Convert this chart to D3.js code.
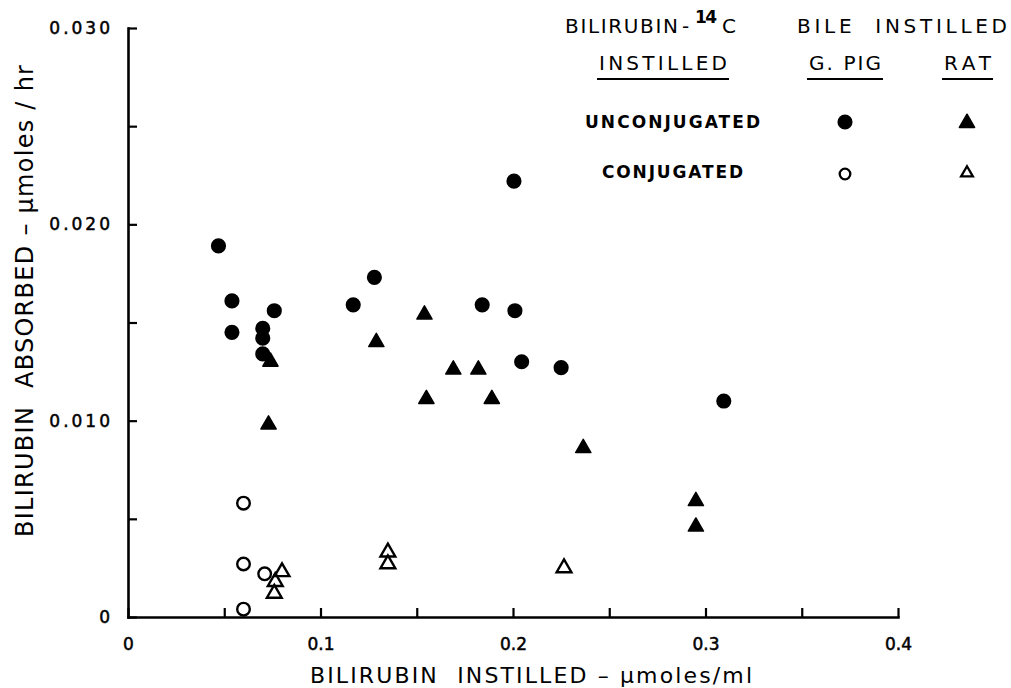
<!DOCTYPE html>
<html>
<head>
  <meta charset="utf-8">
  <title>Bilirubin absorbed vs bilirubin instilled</title>
  <style>
    body { margin: 0; background: #fff; }
    text { font-family: "DejaVu Sans", sans-serif; fill: #000; }
  </style>
</head>
<body>

  <script src="https://cdn.jsdelivr.net/npm/d3@7/dist/d3.min.js"></script>

  <script>
    // values: [instilled µmoles/ml, absorbed µmoles/hr]
    var gpigUnconjugated = [
      [0.047, 0.0189], [0.054, 0.0161], [0.054, 0.0145], [0.076, 0.0156],
      [0.070, 0.0147], [0.070, 0.0142], [0.070, 0.0134], [0.117, 0.0159],
      [0.128, 0.0173], [0.184, 0.0159], [0.201, 0.0156], [0.2005, 0.0222],
      [0.2045, 0.0130], [0.225, 0.0127], [0.3095, 0.0110]
    ];
    var ratUnconjugated = [
      [0.074, 0.0130], [0.073, 0.0098], [0.129, 0.0140], [0.154, 0.0154],
      [0.155, 0.0111], [0.169, 0.0126], [0.182, 0.0126], [0.189, 0.0111],
      [0.2365, 0.0086], [0.295, 0.0059], [0.295, 0.0046]
    ];
    var gpigConjugated = [
      [0.060, 0.0058], [0.060, 0.0027], [0.071, 0.0022], [0.060, 0.0004]
    ];
    var ratConjugated = [
      [0.080, 0.0023], [0.0765, 0.0018], [0.076, 0.0012],
      [0.135, 0.0033], [0.135, 0.0027], [0.2265, 0.0025]
    ];

    // ticks
    var xTickValues = [0, 0.05, 0.1, 0.15, 0.2, 0.25, 0.3, 0.35, 0.4];
    var xTickLabels = ["0", "", "0.1", "", "0.2", "", "0.3", "", "0.4"];
    var yTickValues = [0, 0.005, 0.010, 0.015, 0.020, 0.025, 0.030];
    var yTickLabels = ["0", "", "0.010", "", "0.020", "", "0.030"];

    var width = 1011;
    var height = 688;

    var x = d3.scaleLinear().domain([0, 0.4]).range([128, 898]);
    var y = d3.scaleLinear().domain([0, 0.030]).range([617, 28]);

    var svg = d3.select("body").append("svg")
      .attr("width", width)
      .attr("height", height);

    // X axis, ticks pointing inward
    var xAxis = svg.append("g")
      .attr("transform", "translate(0," + y(0) + ")")
      .call(d3.axisBottom(x)
        .tickValues(xTickValues)
        .tickFormat(function(d, i) { return xTickLabels[i]; })
        .tickSize(-9)
        .tickSizeOuter(0)
        .tickPadding(21));

    // Y axis
    var yAxis = svg.append("g")
      .attr("transform", "translate(" + x(0) + ",0)")
      .call(d3.axisLeft(y)
        .tickValues(yTickValues)
        .tickFormat(function(d, i) { return yTickLabels[i]; })
        .tickSize(-9)
        .tickSizeOuter(0)
        .tickPadding(15));

    [xAxis, yAxis].forEach(function(g) {
      g.attr("font-family", null).attr("font-size", null);
      g.select(".domain").attr("stroke-width", 2.6).attr("stroke-linecap", "square");
      g.selectAll(".tick line").attr("stroke-width", 2.2);
      g.selectAll(".tick text")
        .attr("font-size", 17)
        .attr("fill", "#000")
        .attr("stroke", "#000")
        .attr("stroke-width", 0.5);
    });
    yAxis.selectAll(".tick text").attr("letter-spacing", 3);

    // axis titles
    svg.append("text")
      .attr("x", 310)
      .attr("y", 683)
      .attr("font-size", 22)
      .attr("textLength", 442)
      .style("white-space", "pre")
      .text("BILIRUBIN  INSTILLED \u2013 \u03bcmoles/ml");

    svg.append("text")
      .attr("transform", "translate(33,537) rotate(-90)")
      .attr("font-size", 24)
      .attr("textLength", 472)
      .style("white-space", "pre")
      .text("BILIRUBIN  ABSORBED \u2013 \u03bcmoles / hr");

    // data marks
    var plot = svg.append("g");
    var circle = d3.symbol().type(d3.symbolCircle);
    var triangle = d3.symbol().type(d3.symbolTriangle);

    plot.selectAll(".gpig-unc")
      .data(gpigUnconjugated)
      .enter().append("path")
      .attr("class", "gpig-unc")
      .attr("d", circle.size(180)())
      .attr("transform", function(d) { return "translate(" + x(d[0]) + "," + y(d[1]) + ")"; })
      .attr("fill", "#000");

    plot.selectAll(".rat-unc")
      .data(ratUnconjugated)
      .enter().append("path")
      .attr("class", "rat-unc")
      .attr("d", triangle.size(100)())
      .attr("transform", function(d) { return "translate(" + x(d[0]) + "," + y(d[1]) + ")"; })
      .attr("fill", "#000")
      .attr("stroke", "#000")
      .attr("stroke-width", 1.5)
      .attr("stroke-linejoin", "round");

    plot.selectAll(".gpig-con")
      .data(gpigConjugated)
      .enter().append("circle")
      .attr("class", "gpig-con")
      .attr("cx", function(d) { return x(d[0]); })
      .attr("cy", function(d) { return y(d[1]); })
      .attr("r", 6.3)
      .attr("fill", "none")
      .attr("stroke", "#000")
      .attr("stroke-width", 2.4);

    plot.selectAll(".rat-con")
      .data(ratConjugated)
      .enter().append("path")
      .attr("class", "rat-con")
      .attr("d", triangle.size(95)())
      .attr("transform", function(d) { return "translate(" + x(d[0]) + "," + y(d[1]) + ")"; })
      .attr("fill", "none")
      .attr("stroke", "#000")
      .attr("stroke-width", 2.4);

    // legend
    var legend = svg.append("g");

    // "BILIRUBIN -14C" heading, pieces placed separately
    legend.append("text")
      .attr("x", 565).attr("y", 33)
      .attr("font-size", 20)
      .attr("textLength", 113)
      .text("BILIRUBIN");
    legend.append("text")
      .attr("x", 682).attr("y", 33)
      .attr("font-size", 20)
      .text("-");
    legend.append("text")
      .attr("x", 695).attr("y", 23)
      .attr("font-size", 17)
      .attr("font-weight", "bold")
      .attr("textLength", 22)
      .text("14");
    legend.append("text")
      .attr("x", 722).attr("y", 33)
      .attr("font-size", 20)
      .text("C");

    legend.append("text")
      .attr("x", 797)
      .attr("y", 33)
      .attr("font-size", 20)
      .attr("textLength", 210)
      .style("white-space", "pre")
      .text("BILE  INSTILLED");

    var subHeads = [
      { label: "INSTILLED", x0: 597, x1: 729 },
      { label: "G. PIG", x0: 807, x1: 883 },
      { label: "RAT", x0: 942, x1: 993 }
    ];
    subHeads.forEach(function(s) {
      legend.append("text")
        .attr("x", (s.x0 + s.x1) / 2)
        .attr("y", 70)
        .attr("text-anchor", "middle")
        .attr("font-size", 20)
        .attr("textLength", s.x1 - s.x0 - 4)
        .text(s.label);
      legend.append("line")
        .attr("x1", s.x0).attr("x2", s.x1)
        .attr("y1", 79).attr("y2", 79)
        .attr("stroke", "#000")
        .attr("stroke-width", 2);
    });

    legend.append("text")
      .attr("x", 585)
      .attr("y", 128)
      .attr("font-size", 17)
      .attr("font-weight", "bold")
      .attr("textLength", 175)
      .text("UNCONJUGATED");

    legend.append("text")
      .attr("x", 602)
      .attr("y", 178)
      .attr("font-size", 17)
      .attr("font-weight", "bold")
      .attr("textLength", 141)
      .text("CONJUGATED");

    legend.append("path")
      .attr("d", circle.size(180)())
      .attr("transform", "translate(845,122)")
      .attr("fill", "#000");

    legend.append("path")
      .attr("d", triangle.size(100)())
      .attr("transform", "translate(967,123)")
      .attr("fill", "#000")
      .attr("stroke", "#000")
      .attr("stroke-width", 1.5)
      .attr("stroke-linejoin", "round");

    legend.append("circle")
      .attr("cx", 845)
      .attr("cy", 174)
      .attr("r", 5.3)
      .attr("fill", "none")
      .attr("stroke", "#000")
      .attr("stroke-width", 2.3);

    legend.append("path")
      .attr("d", triangle.size(60)())
      .attr("transform", "translate(967,173)")
      .attr("fill", "none")
      .attr("stroke", "#000")
      .attr("stroke-width", 2.3);
  </script>

</body>
</html>
